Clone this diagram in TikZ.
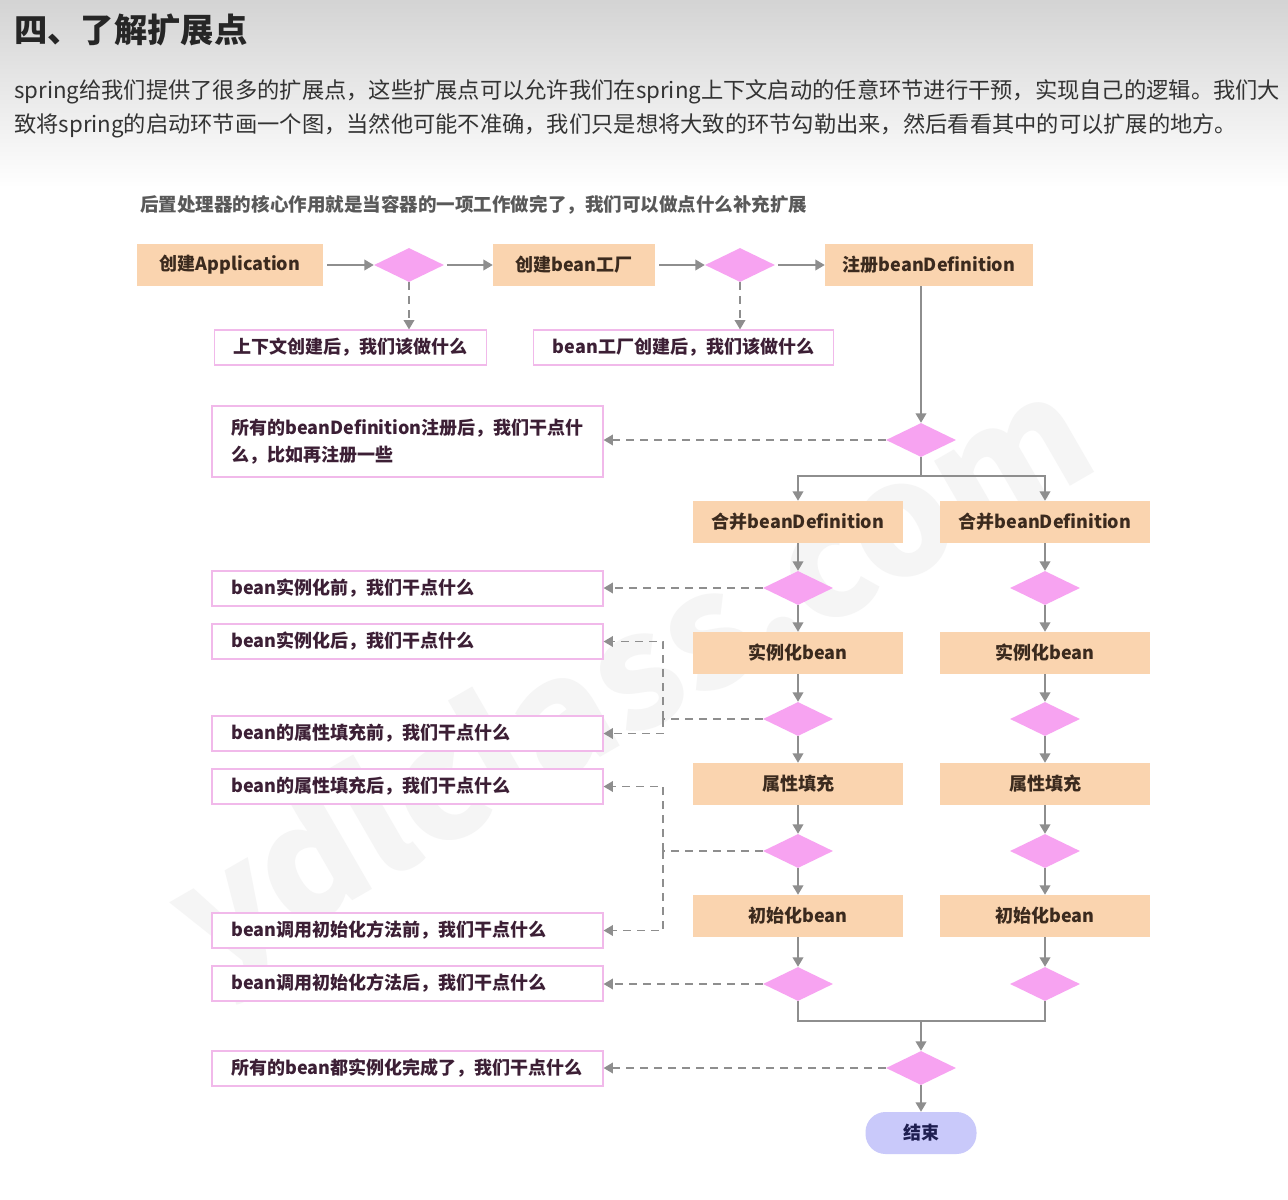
\documentclass[tikz,border=0pt]{standalone}
\usepackage{fontspec}
\setmainfont{Noto Sans CJK SC}
\usetikzlibrary{shapes.geometric, arrows.meta}

\definecolor{stagefill}{HTML}{FAD4AF}
\definecolor{stagetext}{HTML}{3B2A1E}
\definecolor{gatefill}{HTML}{F7A3F1}
\definecolor{hookline}{HTML}{F1B9EA}
\definecolor{hooktext}{HTML}{3C1F35}
\definecolor{wire}{HTML}{8E8E8E}
\definecolor{endfill}{HTML}{C9C9FA}
\definecolor{endtext}{HTML}{1E1E50}
\definecolor{bodytext}{HTML}{333333}

\begin{document}
\begin{tikzpicture}[x=0.75pt, y=-0.75pt, >={Triangle[length=7pt,width=8pt]},
    stage/.style={fill=stagefill, text=stagetext, font=\bfseries\fontsize{13.5}{16}\selectfont,
        minimum width=157.5pt, minimum height=31.5pt, inner sep=0pt},
    gate/.style={diamond, fill=gatefill, minimum width=52.5pt, minimum height=25.5pt, inner sep=0pt},
    hook/.style={draw=hookline, line width=0.9pt, fill=white, text=hooktext,
        font=\bfseries\fontsize{13.5}{20.25}\selectfont, minimum height=26.25pt,
        inner xsep=14.5pt, inner ysep=0pt},
    sidehook/.style={hook, text width=264.25pt, align=left},
    finish/.style={rounded corners=15pt, fill=endfill, text=endtext,
        font=\bfseries\fontsize{13.5}{16}\selectfont, minimum width=83.25pt, minimum height=31.5pt},
    wireline/.style={wire, line width=1.1pt},
    flow/.style={wireline, ->},
    hintline/.style={wireline, dash pattern=on 6pt off 4.5pt},
    hint/.style={hintline, ->},
]
    \useasboundingbox (0,0) rectangle (1288,1199);
    \fill[white] (0,0) rectangle (1288,1199);
    \shade[top color=black!17, bottom color=white] (0,0) rectangle (1288,188);

    % watermark
    \node[rotate=30, text=black!4, font=\bfseries\fontsize{118}{118}\selectfont] (mark) at (635,685) {ydlclass.com};

    % ====================
    % Heading and text
    % ====================
    \node[anchor=west, inner sep=0pt, text=black!85, font=\bfseries\fontsize{25}{28}\selectfont] (title) at (14,30) {四、了解扩展点};
    \node[anchor=west, inner sep=0pt, text=bodytext, font=\fontsize{16.7}{20}\selectfont] (para1) at (14,92)
        {spring给我们提供了很多的扩展点，这些扩展点可以允许我们在spring上下文启动的任意环节进行干预，实现自己的逻辑。我们大};
    \node[anchor=west, inner sep=0pt, text=bodytext, font=\fontsize{16.7}{20}\selectfont] (para2) at (14,126)
        {致将spring的启动环节画一个图，当然他可能不准确，我们只是想将大致的环节勾勒出来，然后看看其中的可以扩展的地方。};
    \node[anchor=west, inner sep=0pt, text=black!65, font=\bfseries\fontsize{13.9}{16}\selectfont] (lead) at (140,205)
        {后置处理器的核心作用就是当容器的一项工作做完了，我们可以做点什么补充扩展};

    % ====================
    % Context start
    % ====================
    \node[stage, minimum width=139.5pt] (app) at (230,265) {创建Application};
    \node[gate] (gApp) at (409,265) {};
    \node[stage, minimum width=121.5pt] (factory) at (574,265) {创建bean工厂};
    \node[gate] (gFactory) at (740,265) {};
    \node[stage, minimum width=156pt] (register) at (929,265) {注册beanDefinition};

    \node[hook] (ctxHook) at (350.5,347.5) {上下文创建后，我们该做什么};
    \node[hook] (factoryHook) at (683.5,347.5) {bean工厂创建后，我们该做什么};

    \draw[flow, shorten <=3pt] (app) -- (gApp);
    \draw[flow, shorten <=2pt] (gApp) -- (factory);
    \draw[flow, shorten <=3pt] (factory) -- (gFactory);
    \draw[flow, shorten <=2pt] (gFactory) -- (register);
    \draw[hint] (gApp) -- (gApp |- ctxHook.north);
    \draw[hint] (gFactory) -- (gFactory |- factoryHook.north);

    % ====================
    % Registered definitions
    % ====================
    \node[gate] (gReg) at (921,440) {};
    \node[sidehook, minimum height=53.25pt] (regHook) at (407.5,441.5)
        {所有的beanDefinition注册后，我们干点什\\么，比如再注册一些};
    \draw[flow] (gReg |- register.south) -- (gReg);
    \draw[hint] (gReg.west) -- (gReg.west -| regHook.east);

    \coordinate (split) at (921,476);
    \draw[wireline] (gReg) -- (split);

    % ====================
    % Two bean columns
    % ====================
    \foreach \c/\x in {L/798, R/1045} {
        \node[stage] (merge\c) at (\x,522) {合并beanDefinition};
        \node[gate] (gInst\c) at (\x,588) {};
        \node[stage] (inst\c) at (\x,653) {实例化bean};
        \node[gate] (gPop\c) at (\x,719) {};
        \node[stage] (pop\c) at (\x,784) {属性填充};
        \node[gate] (gInit\c) at (\x,851) {};
        \node[stage] (init\c) at (\x,916) {初始化bean};
        \node[gate] (gDone\c) at (\x,984) {};

        \draw[flow] (split) -| (merge\c);
        \draw[flow] (merge\c) -- (gInst\c);
        \draw[flow] (gInst\c) -- (inst\c);
        \draw[flow] (inst\c) -- (gPop\c);
        \draw[flow] (gPop\c) -- (pop\c);
        \draw[flow] (pop\c) -- (gInit\c);
        \draw[flow] (gInit\c) -- (init\c);
        \draw[flow] (init\c) -- (gDone\c);
    }

    % ====================
    % Hooks on the left
    % ====================
    \node[sidehook] (preInst) at (407.5,588.5) {bean实例化前，我们干点什么};
    \node[sidehook] (postInst) at (407.5,641.5) {bean实例化后，我们干点什么};
    \node[sidehook] (prePop) at (407.5,733.5) {bean的属性填充前，我们干点什么};
    \node[sidehook] (postPop) at (407.5,786.5) {bean的属性填充后，我们干点什么};
    \node[sidehook] (preInit) at (407.5,930.5) {bean调用初始化方法前，我们干点什么};
    \node[sidehook] (postInit) at (407.5,983.5) {bean调用初始化方法后，我们干点什么};
    \node[sidehook] (allDone) at (407.5,1068.5) {所有的bean都实例化完成了，我们干点什么};

    \draw[hint] (gInstL.west) -- (gInstL.west -| preInst.east);

    \coordinate (teePop) at (663,719);
    \draw[hintline] (gPopL.west) -- (teePop);
    \draw[hint] (teePop) |- (postInst.east);
    \draw[hint] (teePop) |- (prePop.east);

    \coordinate (teeInit) at (663,851);
    \draw[hintline] (gInitL.west) -- (teeInit);
    \draw[hint] (teeInit) |- (postPop.east);
    \draw[hint] (teeInit) |- (preInit.east);

    \draw[hint] (gDoneL.west) -- (gDoneL.west -| postInit.east);

    % ====================
    % End
    % ====================
    \coordinate (join) at (921,1021);
    \node[gate] (gAll) at (921,1068) {};
    \node[finish] (finish) at (921,1133) {结束};

    \draw[wireline] (gDoneL.south) |- (join) -| (gDoneR.south);
    \draw[flow] (join) -- (gAll);
    \draw[hint] (gAll.west) -- (gAll.west -| allDone.east);
    \draw[flow] (gAll) -- (finish);

\end{tikzpicture}
\end{document}
